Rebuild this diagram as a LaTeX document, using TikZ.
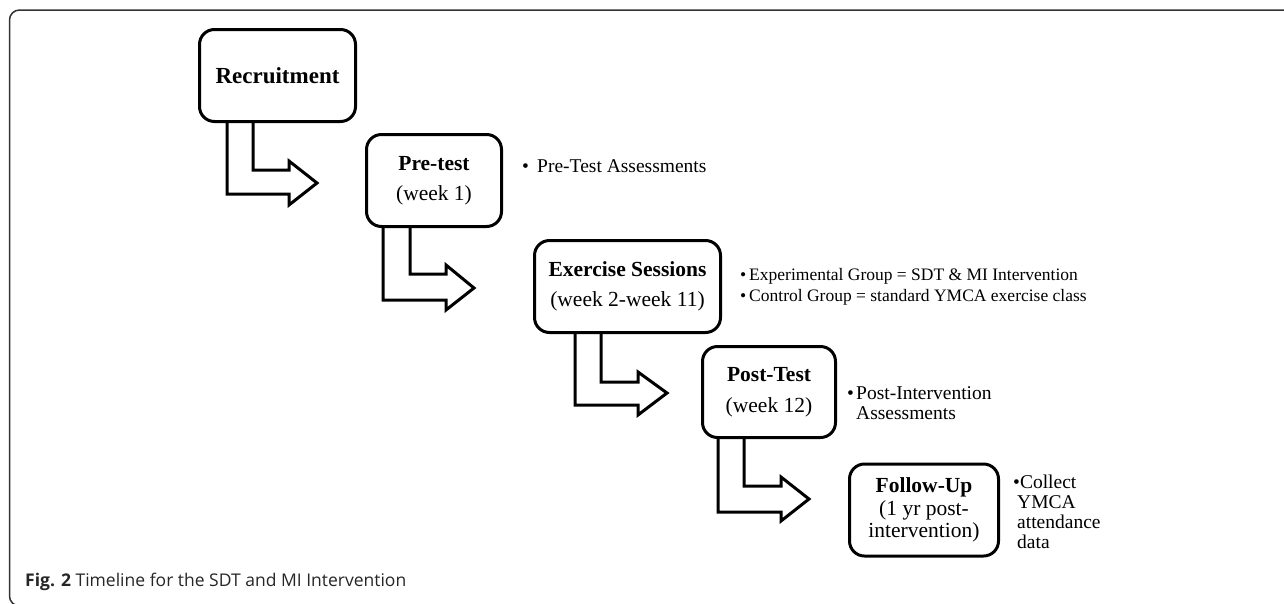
\documentclass[tikz,border=0pt]{standalone}
\usepackage{fontspec}
\setmainfont{Liberation Serif}
\newfontfamily\capfont{Open Sans}
\begin{document}
\begin{tikzpicture}[x=1pt,y=-1pt,
  stage/.style={draw=black, line width=3pt, rounded corners=15pt, align=center, inner sep=0pt, font=\fontsize{21.5}{30}\selectfont},
  blockarrow/.style={draw=black, line width=3pt, line join=miter, miter limit=10},
  sidetext/.style={anchor=west, align=left, inner sep=0pt, font=\fontsize{19.5}{20}\selectfont},
  frameline/.style={draw=black!80, line width=1.5pt, rounded corners=10pt}]
\useasboundingbox (0,0) rectangle (1284,603);
\begin{scope}
\clip (0,0) rectangle (1284,603);
\draw[frameline] (9.5,10) rectangle (1320,606);
\end{scope}

% stages
\node[stage, minimum width=156pt, minimum height=92pt, font=\fontsize{23}{28}\selectfont] (R) at (277.5,75.5) {\textbf{Recruitment}};
\node[stage, minimum width=135pt, minimum height=92pt] (P) at (434,180.5) {\textbf{Pre-test}\\(week 1)};
\node[stage, minimum width=186pt, minimum height=92pt] (E) at (627.5,286.5) {\textbf{Exercise Sessions}\\(week 2-week 11)};
\node[stage, minimum width=133pt, minimum height=91pt, font=\fontsize{21.5}{31}\selectfont] (T) at (769,392) {\textbf{Post-Test}\\(week 12)};
\node[stage, minimum width=149pt, minimum height=92pt, font=\fontsize{21.5}{22.5}\selectfont] (F) at (924,510) {\textbf{Follow-Up}\\(1 yr post-\\intervention)};

% block arrows
\draw[blockarrow] (227,0 |- R.south) -- (227,194) -- (289,194) -- (289,205) -- (317,183) -- (289,161) -- (289,170) -- (253,170) -- (253,0 |- R.south);
\draw[blockarrow] (383,0 |- P.south) -- (383,300) -- (446,300) -- (446,310) -- (474,288) -- (446,265) -- (446,274) -- (410,274) -- (410,0 |- P.south);
\draw[blockarrow] (575,0 |- E.south) -- (575,405) -- (638,405) -- (638,415) -- (667,393) -- (638,372) -- (638,382) -- (601,382) -- (601,0 |- E.south);
\draw[blockarrow] (718,0 |- T.south) -- (718,512) -- (781,512) -- (781,521) -- (809,499) -- (781,477) -- (781,486) -- (744,486) -- (744,0 |- T.south);

% side notes
\node[sidetext] (pa) at (522,166) {\makebox[15pt][l]{•}Pre-Test Assessments};
\node[sidetext, font=\fontsize{17.5}{21}\selectfont] (eb) at (740,286.5) {•\,Experimental Group = SDT \& MI Intervention\\•\,Control Group = standard YMCA exercise class};
\node[sidetext] (pi) at (847,403) {\makebox[9pt][l]{•}Post-Intervention\\\hspace*{9pt}Assessments};
\node[sidetext] (cy) at (1013,512) {•Collect\\\hspace*{4pt}YMCA\\\hspace*{4pt}attendance\\\hspace*{4pt}data};

% caption
\node[anchor=base west, inner sep=0pt, font=\capfont\fontsize{17.5}{21}\selectfont, text=black!85] (cap) at (25,586) {\textbf{Fig. 2} Timeline for the SDT and MI Intervention};
\end{tikzpicture}
\end{document}
